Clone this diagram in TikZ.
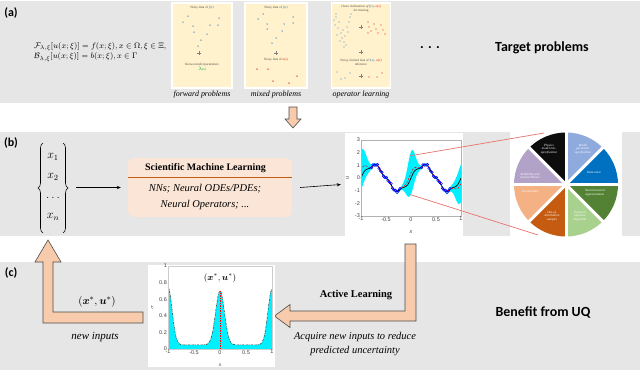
\documentclass[tikz,border=0pt]{standalone}
\usepackage{fontspec}
\setmainfont{Liberation Serif}
\newfontfamily\calib{Carlito}
\newfontfamily\helv{Liberation Sans}
\usepackage{bm}
\usetikzlibrary{arrows.meta,decorations.pathreplacing}
\definecolor{bandgray}{HTML}{E7E6E6}
\definecolor{cardy}{HTML}{FFF2CC}
\definecolor{peach}{HTML}{FBE5D6}
\definecolor{arrfill}{HTML}{F8CBAD}
\definecolor{burnt}{HTML}{C55A11}
\definecolor{fblue}{HTML}{2E75B6}
\definecolor{dotblue}{HTML}{4A90D0}
\definecolor{dotred}{HTML}{E02020}
\definecolor{lamgreen}{HTML}{00A040}
\definecolor{pblack}{HTML}{0D0D0D}
\definecolor{plblue}{HTML}{8FAADC}
\definecolor{pdblue}{HTML}{0070C0}
\definecolor{pdgreen}{HTML}{548235}
\definecolor{plgreen}{HTML}{A9D18E}
\definecolor{pdorange}{HTML}{C55A11}
\definecolor{plorange}{HTML}{F4B183}
\definecolor{ppurple}{HTML}{B3A2C7}
\definecolor{lred}{HTML}{E8716D}
\definecolor{bandcyan}{HTML}{00F0FF}
\tikzset{
  lab/.style={font=\calib\bfseries\fontsize{12}{12}\selectfont, inner sep=0pt},
  bigtext/.style={font=\calib\bfseries\fontsize{14}{14}\selectfont, inner sep=0pt},
  captext/.style={font=\itshape\fontsize{8}{8}\selectfont, inner sep=0pt},
  card/.style={fill=cardy, draw=white, line width=1.2bp, inner sep=0pt},
  cardtxt/.style={font=\fontsize{3.3}{3.9}\selectfont, inner sep=0pt, align=center, text=black!70},
  bigarr/.style={fill=arrfill, draw=black!70, line width=0.6bp, line join=miter},
  conn/.style={-{Stealth[length=4bp,width=3.2bp]}, line width=0.6bp},
  tick/.style={font=\helv\fontsize{5.5}{6}\selectfont, text=black!75, inner sep=1bp},
  slicetxt/.style={font=\itshape\fontsize{3.2}{3.7}\selectfont, text=white, align=center, inner sep=0pt},
  bdot/.style={fill=dotblue},
  rdot/.style={fill=dotred},
  vbrace/.style={decorate, decoration={brace, amplitude=5bp}, line width=0.6bp},
}
\newcommand{\pluscross}[2]{\draw[gray, line width=0.9bp] (#1-2.2,#2) -- (#1+2.2,#2) (#1,#2-2.2) -- (#1,#2+2.2);}
\begin{document}
\begin{tikzpicture}[x=1bp,y=-1bp,
  declare function={
    ga(\t,\c,\w)=exp(max(-12,0-(((\t)-(\c))/(\w))*(((\t)-(\c))/(\w))));
    uu(\t)=sin(360*(\t))+0.12*sin(1440*(\t));
    mm(\t)=uu(\t)+0.6*ga(\t,-1,0.12)-0.4*ga(\t,1,0.12)+0.4*ga(\t,0,0.11);
    ss(\t)=0.08+1.45*ga(\t,-1,0.13)+1.6*ga(\t,0,0.11)+1.4*ga(\t,1,0.13);
    sc(\t)=0.05+0.7*ga(\t,-1,0.11)+0.65*ga(\t,0,0.12)+0.67*ga(\t,1,0.11);
  }]
\useasboundingbox (0,0) rectangle (640,372);
\fill[white] (0,0) rectangle (640,372);
% bands
\fill[bandgray] (0,1) rectangle (640,103);
\fill[bandgray] (0,132) rectangle (640,236);
\fill[bandgray] (0,262) rectangle (640,370);

% ---------- (a)
\node[lab] (la) at (11,13) {(a)};
\node[anchor=west, font=\fontsize{8}{10.5}\selectfont, align=left, inner sep=0pt] (eqs) at (34,52)
  {$\mathcal{F}_{\lambda,\xi}[u(x;\xi)]=f(x;\xi), x\in\Omega, \xi\in\Xi,$\\
   $\mathcal{B}_{\lambda,\xi}[u(x;\xi)]=b(x;\xi), x\in\Gamma$};

% forward card
\node[card, minimum width=60bp, minimum height=85bp] (cf) at (202,45.5) {};
\node[cardtxt] (cft) at (202,8) {Noisy data of \textcolor{fblue}{\textit{f}(\textit{x})}};
\foreach \px/\py in {188/16,219/18,183/22,193/26,210/25,218/25,194/32,207/34,201/40,198/46}
  \fill[bdot] (\px,\py) circle[radius=0.75bp];
\pluscross{199}{53}
\node[cardtxt] (cfk) at (202,67.5) {Known model parameters\\\textcolor{lamgreen}{\textit{$\lambda$}(\textit{x})}};
\node[captext] (capf) at (202,95) {forward problems};

% mixed card
\node[card, minimum width=62bp, minimum height=85bp] (cm) at (276,45.5) {};
\node[cardtxt] (cmt) at (276,8) {Noisy data of \textcolor{fblue}{\textit{f}(\textit{x})}};
\foreach \px/\py in {263/14,293/17,258/19,267/24,284/24,293/23,267/29,282/31,276/38,272/43}
  \fill[bdot] (\px,\py) circle[radius=0.75bp];
\pluscross{276}{53}
\node[cardtxt] (cmu) at (276,60) {Noisy data of \textcolor{dotred}{\textit{u}(\textit{x})}};
\foreach \px/\py in {257/69,268/69,297/76,273/81,289/83}
  \fill[rdot] (\px,\py) circle[radius=0.75bp];
\node[captext] (capm) at (276,95) {mixed problems};

% operator card
\node[card, minimum width=59bp, minimum height=85bp] (co) at (361,45.5) {};
\node[cardtxt] (cot) at (361,8.5) {\textit{Clean realizations of \textcolor{fblue}{f(x)}, \textcolor{dotred}{u(x)}}\\for training};
\foreach \px/\py in {334/20,335/25,336/17,338/28,339/22,341/33,342/38,343/30,344/42,345/36,346/45,347/27,348/32,349/22,350/17,351/14,337/35,340/41,336/14,344/47}
  \fill[bdot] (\px,\py) circle[radius=0.65bp];
\pluscross{361}{27}
\foreach \px/\py in {368/22,369/27,371/31,374/24,376/29,378/33,381/25,383/30,385/34,368/33}
  \fill[rdot] (\px,\py) circle[radius=0.65bp];
\pluscross{361}{52}
\node[cardtxt] (con) at (361,62) {Noisy, limited data of \textcolor{fblue}{f(x)}, \textcolor{dotred}{u(x)}\\inference};
\foreach \px/\py in {337/72,341/79,345/78,350/73}
  \fill[bdot] (\px,\py) circle[radius=0.65bp];
\pluscross{361}{76}
\foreach \px/\py in {369/77,377/77,382/73}
  \fill[rdot] (\px,\py) circle[radius=0.65bp];
\node[captext] (capo) at (361,95) {operator learning};

\node[bigtext] (dots) at (430,48) {. . .};
\node[bigtext] (tp) at (542,48) {Target problems};

% small down arrow
\draw[bigarr] (289,107) -- (297,107) -- (297,119) -- (301,119) -- (293,128) -- (285,119) -- (289,119) -- cycle;

% ---------- (b)
\node[lab] (lb) at (11,143) {(b)};
\node[font=\fontsize{12}{14}\selectfont, inner sep=0pt] (vec) at (53,186)
  {$\begin{array}{@{}c@{}} x_1\\[6pt] x_2\\[6pt] \ldots\\[6pt] x_n \end{array}$};
\draw[vbrace] (43,233) -- (43,143);
\draw[vbrace] (63,143) -- (63,233);
\coordinate (vecr) at (70,187.5);
\node[fill=peach, rounded corners=6bp, minimum width=164bp, minimum height=59bp, inner sep=0pt] (sml) at (210,187.5) {};
\node[font=\bfseries\fontsize{10}{12}\selectfont, inner sep=0pt] (smlt) at (205.5,168) {Scientific Machine Learning};
\draw[burnt, line width=1bp] (128,177) -- (292,177);
\node[font=\itshape\fontsize{10.5}{16}\selectfont, align=center, inner sep=0pt] (smlb) at (205,197) {NNs; Neural ODEs/PDEs;\\Neural Operators; ...};
\draw[conn] ([xshift=6bp]vecr) -- ([xshift=-7bp]sml.west);

% plot b
\node[fill=white, minimum width=118bp, minimum height=103bp, inner sep=0pt] (pb) at (404,184.5) {};
\draw[conn] ([xshift=8bp]sml.east) -- ([xshift=-4bp]pb.west);
\begin{scope}[shift={(411,178)}, x=50bp, y=12.67bp]
  \fill[bandcyan] plot[domain=-1:1, samples=161] (\x,{mm(\x)+ss(\x)}) -- plot[domain=1:-1, samples=161] (\x,{mm(\x)-ss(\x)}) -- cycle;
  \draw[black, line width=0.7bp] plot[domain=-1:1, samples=161] (\x,{uu(\x)});
  \draw[red, line width=0.6bp, dash pattern=on 2bp off 1.5bp] plot[domain=-1:1, samples=161] (\x,{mm(\x)});
  \foreach \p in {-0.79,-0.76,...,-0.2, 0.21,0.24,...,0.8}
    \draw[blue, line width=0.5bp] (\p,{uu(\p)+0.08*sin(7919*\p)}) circle[radius=1.3bp];
  \draw[gray!60, line width=0.4bp] (-1,-3) rectangle (1,3);
  \foreach \v in {-3,...,3} \node[tick, anchor=east] at (-1,\v) {\v};
  \foreach \v in {-1,-0.5,0,0.5,1} \node[tick, anchor=north] at (\v,-3) {\v};
  \node[tick, font=\helv\itshape\fontsize{5.5}{6}\selectfont] at (0,-4.3) {x};
  \node[tick, font=\helv\itshape\fontsize{5.5}{6}\selectfont, rotate=90] at (-1.27,0) {u};
  \coordinate (bandtop) at (-0.02,1.75);
  \coordinate (bandbot) at (-0.02,-1.3);
\end{scope}

% pie
\fill[white] (510,132) rectangle (622,236);
\begin{scope}[shift={(566,184.5)}, y=1bp]
  \foreach \a/\c in {90/pblack,135/ppurple,180/plorange,225/pdorange,270/plgreen,315/pdgreen,0/pdblue,45/plblue}
    \fill[\c] (0,0) -- (\a:52) arc[start angle=\a, end angle=\a+45, radius=52] -- cycle;
  \foreach \a in {0,45,...,315}
    \draw[white, line width=3bp] (0,0) -- (\a:54);
\end{scope}
\node[slicetxt] (s1) at (549,149) {Physics\\model mis-\\specification};
\node[slicetxt] (s2) at (583,149) {Model\\parameter\\specification};
\node[slicetxt] (s3) at (594,172) {Data noise};
\node[slicetxt] (s4) at (595,193) {Neural network\\approximation};
\node[slicetxt] (s5) at (580,216) {Posterior\\inference\\algorithm};
\node[slicetxt] (s6) at (552,216) {Out-of-\\distribution\\samples};
\node[slicetxt] (s7) at (530,191) {Limited data};
\node[slicetxt] (s8) at (530,176) {Reliability and\\trustworthiness};
\coordinate (pietl) at (544,133);
\coordinate (piebl) at (538,235);
\draw[lred, line width=0.7bp] (bandtop) -- (pietl);
\draw[lred, line width=0.7bp] (bandbot) -- (piebl);

% ---------- (c)
\node[lab] (lc) at (11,273) {(c)};
\draw[bigarr] (405,244) -- (416,244) -- (416,321) -- (290,321) -- (290,327.5) -- (274.5,316) -- (290,304.5) -- (290,311) -- (405,311) -- cycle;
\draw[bigarr] (143,312) -- (53,312) -- (53,262) -- (61,262) -- (48,240) -- (35,262) -- (43,262) -- (43,323) -- (143,323) -- cycle;

\node[fill=white, minimum width=127bp, minimum height=102bp, inner sep=0pt] (pc) at (211.5,316) {};
\begin{scope}[shift={(220,349)}, x=52bp, y=83bp]
  \fill[bandcyan] (-1,0) -- plot[domain=-1:1, samples=161] (\x,{sc(\x)}) -- (1,0) -- cycle;
  \draw[black!80, line width=0.5bp, dash pattern=on 2bp off 1bp on 0.5bp off 1bp] plot[domain=-1:1, samples=161] (\x,{sc(\x)});
  \draw[red, line width=0.6bp, dash pattern=on 1.5bp off 1bp] (0,0) -- (0,{sc(0)});
  \draw[gray!40, line width=0.3bp] (-1,0) rectangle (1,1);
  \foreach \v in {0,0.2,0.4,0.6,0.8,1} \node[tick, anchor=east] at (-1,\v) {\v};
  \foreach \v in {-1,-0.5,0,0.5,1} \node[tick, anchor=north] at (\v,0) {\v};
  \node[tick, font=\helv\itshape\fontsize{5}{6}\selectfont] at (0,-0.19) {x};
  \node[tick, font=\fontsize{5}{6}\selectfont, rotate=90] at (-1.3,0.5) {$\sigma$};
  \node[font=\fontsize{9}{10}\selectfont, inner sep=0pt] (xuc) at (0,0.85) {$(\bm{x}^*,\bm{u}^*)$};
\end{scope}

\node[font=\fontsize{11}{12}\selectfont, inner sep=0pt] (xu) at (97,302) {$(\bm{x}^*,\bm{u}^*)$};
\node[font=\itshape\fontsize{11}{12}\selectfont, inner sep=0pt] (ni) at (95,337) {new inputs};
\node[font=\bfseries\fontsize{10.5}{12}\selectfont, inner sep=0pt] (al) at (356,295) {Active Learning};
\node[font=\itshape\fontsize{10.5}{14}\selectfont, align=center, inner sep=0pt] (acq) at (355,344) {Acquire new inputs to reduce\\predicted uncertainty};
\node[bigtext] (ben) at (543,312) {Benefit from UQ};
\end{tikzpicture}
\end{document}
